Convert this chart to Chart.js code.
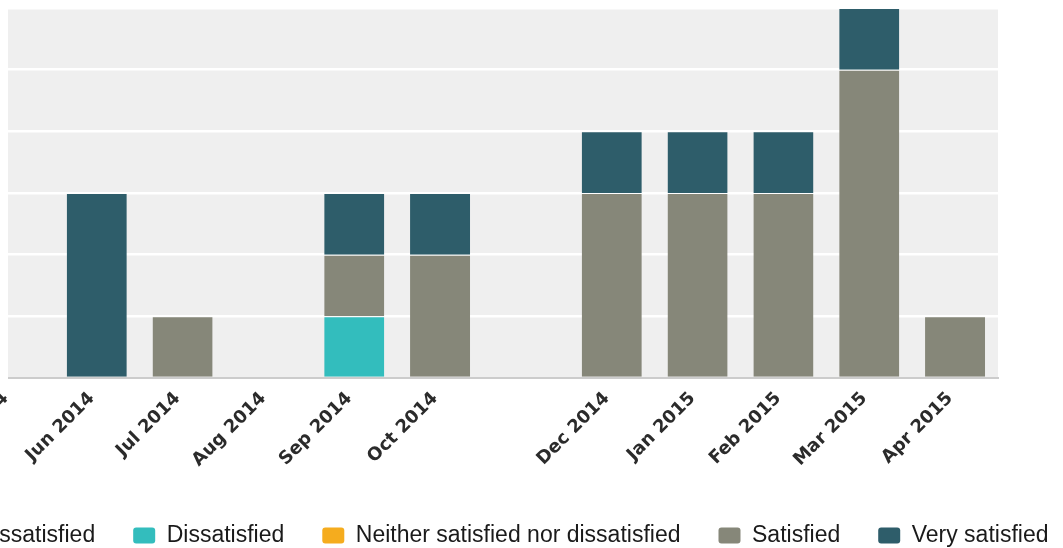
<!DOCTYPE html>
<html>
<head>
<meta charset="utf-8">
<script src="https://cdn.jsdelivr.net/npm/chart.js@4.4.1/dist/chart.umd.min.js"></script>
<style>
  html, body { margin: 0; padding: 0; background: #fff; }
  body { width: 1063px; height: 548px; overflow: hidden; position: relative; }
  #wrap { position: absolute; left: -428.2px; top: 0; width: 1800px; height: 557px; }
  #edge { position: absolute; left: 0; top: 0; width: 8px; height: 380px; background: #fff; }
</style>
</head>
<body>
<div id="wrap"><canvas id="myChart"></canvas></div>
<div id="edge"></div>
<script>
// months (the Nov 2014 label is blank on the original)
var months = ['May 2014', 'Jun 2014', 'Jul 2014', 'Aug 2014', 'Sep 2014', 'Oct 2014', '',
              'Dec 2014', 'Jan 2015', 'Feb 2015', 'Mar 2015', 'Apr 2015'];

var veryDissatisfied = [0, 0, 0, 0, 0, 0, 0, 0, 0, 0, 0, 0];
var dissatisfied     = [0, 0, 0, 0, 1, 0, 0, 0, 0, 0, 0, 0];
var neither          = [0, 0, 0, 0, 0, 0, 0, 0, 0, 0, 0, 0];
var satisfied        = [0, 0, 1, 0, 1, 2, 0, 3, 3, 3, 5, 1];
var verySatisfied    = [0, 3, 0, 0, 1, 1, 0, 1, 1, 1, 1, 0];

var yTicks = [0, 1, 2, 3, 4, 5, 6];

function bars(label, data, color) {
    return {
        label: label,
        data: data,
        backgroundColor: color,
        borderColor: 'rgba(255,255,255,0.75)',
        borderWidth: {top: 1, left: 0, right: 0, bottom: 0},
        borderSkipped: 'start'
    };
}

var plotBg = {
    id: 'plotBg',
    beforeDraw: function(chart) {
        var a = chart.chartArea, ctx = chart.ctx;
        ctx.save();
        ctx.fillStyle = '#efefef';
        ctx.fillRect(a.left, a.top, a.right - a.left, a.bottom - a.top);
        ctx.restore();
    }
};

var ctx = document.getElementById('myChart').getContext('2d');
var myChart = new Chart(ctx, {
    type: 'bar',
    data: {
        labels: months,
        datasets: [
            bars('Very dissatisfied', veryDissatisfied, '#d9534f'),
            bars('Dissatisfied', dissatisfied, '#33bdbd'),
            bars('Neither satisfied nor dissatisfied', neither, '#f5ac1e'),
            bars('Satisfied', satisfied, '#868779'),
            bars('Very satisfied', verySatisfied, '#2e5d6a')
        ]
    },
    options: {
        responsive: true,
        maintainAspectRatio: false,
        animation: false,
        layout: { padding: { top: 8, left: 0, right: 0, bottom: 0 } },
        datasets: { bar: { barPercentage: 0.7, categoryPercentage: 1.0 } },
        scales: {
            x: {
                stacked: true,
                grid: { display: false, drawTicks: false },
                border: { display: true, color: '#cccccc', width: 2 },
                ticks: {
                    autoSkip: false,
                    minRotation: 45,
                    maxRotation: 45,
                    padding: 10,
                    labelOffset: -5,
                    color: '#2b2b2b',
                    font: { family: 'DejaVu Sans', size: 18, weight: 'bold' }
                },
                afterFit: function(scale) { scale.height = 108; }
            },
            y: {
                stacked: true,
                min: 0,
                max: yTicks[yTicks.length - 1],
                afterBuildTicks: function(scale) {
                    scale.ticks = yTicks.map(function(v) { return {value: v}; });
                },
                grid: {
                    color: function(c) { return c.tick && c.tick.value === 0 ? 'rgba(0,0,0,0)' : '#ffffff'; },
                    lineWidth: 2.5,
                    drawTicks: false
                },
                border: { display: false },
                ticks: { display: false },
                afterFit: function(scale) { scale.width = 396; }
            },
            y2: {
                position: 'right',
                grid: { display: false, drawTicks: false },
                border: { display: false },
                ticks: { display: false },
                afterFit: function(scale) { scale.width = 374; }
            }
        },
        plugins: {
            tooltip: { enabled: false },
            legend: {
                position: 'bottom',
                labels: {
                    boxWidth: 22,
                    boxHeight: 16,
                    useBorderRadius: true,
                    borderRadius: 3,
                    padding: 38,
                    color: '#1a1a1a',
                    font: { family: 'Liberation Sans', size: 23 },
                    generateLabels: function(chart) {
                        return Chart.defaults.plugins.legend.labels.generateLabels(chart).map(function(item) {
                            item.lineWidth = 0;
                            return item;
                        });
                    }
                }
            }
        }
    },
    plugins: [plotBg]
});
</script>
</body>
</html>
